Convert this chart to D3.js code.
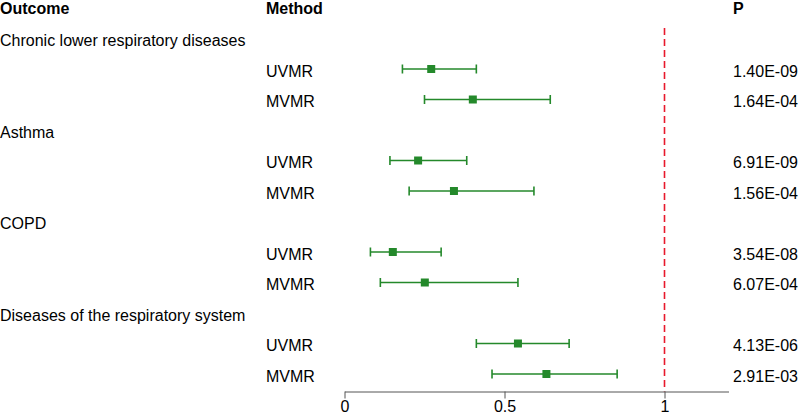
<!DOCTYPE html>
<html>
<head>
<meta charset="utf-8">
<script src="https://cdn.jsdelivr.net/npm/d3@7"></script>
<style>
  body { margin: 0; background: #fff; }
  text { font-family: "Liberation Sans", Arial, sans-serif; }
</style>
</head>
<body>
<svg id="forest"></svg>
<script>
// Datos del gráfico
const outcomes = ["Chronic lower respiratory diseases", "Asthma", "COPD", "Diseases of the respiratory system"];
const methods = ["UVMR", "MVMR"];
const estimates = [0.271, 0.401, 0.230, 0.342, 0.151, 0.251, 0.542, 0.631];
const lowers = [0.181, 0.250, 0.142, 0.202, 0.081, 0.112, 0.412, 0.461];
const uppers = [0.412, 0.643, 0.382, 0.592, 0.302, 0.542, 0.702, 0.852];
const pvalues = ["1.40E-09", "1.64E-04", "6.91E-09", "1.56E-04", "3.54E-08", "6.07E-04", "4.13E-06", "2.91E-03"];
const xTicks = [0, 0.5, 1];
const xMax = 1.2;
const refValue = 1;

const width = 800, height = 419;
const green = "#24892b";
const fontSize = 16;

const svg = d3.select("#forest")
    .attr("width", width)
    .attr("height", height);

// Construir filas: encabezado de outcome, luego una fila por método
const rows = [];
outcomes.forEach((o, i) => {
    rows.push({ type: "outcome", label: o });
    methods.forEach((m, j) => {
        const k = i * methods.length + j;
        rows.push({ type: "method", label: m, est: estimates[k], lo: lowers[k], hi: uppers[k], p: pvalues[k] });
    });
});

// Escalas
const y = d3.scalePoint()
    .domain(d3.range(rows.length + 1))
    .range([8.5, 8.5 + 30.5 * rows.length]);

const x = d3.scaleLinear()
    .domain([0, xMax])
    .range([344.5, 728.5]);

const colOutcome = 0, colMethod = 266, colP = 733;
const axisY = 391.5;

// Encabezados
const header = svg.append("g")
    .attr("font-size", fontSize)
    .attr("font-weight", "bold");
[["Outcome", colOutcome], ["Method", colMethod], ["P", colP]].forEach(([t, cx]) => {
    header.append("text")
        .attr("x", cx)
        .attr("y", y(0))
        .attr("dy", "0.35em")
        .text(t);
});

// Textos de filas
svg.append("g")
    .attr("font-size", fontSize)
  .selectAll("text.label")
  .data(rows)
  .join("text")
    .attr("x", d => d.type === "outcome" ? colOutcome : colMethod)
    .attr("y", (d, i) => y(i + 1) + 1.5)
    .attr("dy", "0.35em")
    .text(d => d.label);

svg.append("g")
    .attr("font-size", fontSize)
  .selectAll("text")
  .data(rows.map((d, i) => ({ ...d, i })).filter(d => d.type === "method"))
  .join("text")
    .attr("x", colP)
    .attr("y", d => y(d.i + 1) + 1.5)
    .attr("dy", "0.35em")
    .text(d => d.p);

// Línea de referencia
svg.append("line")
    .attr("x1", x(refValue)).attr("x2", x(refValue))
    .attr("y1", 28).attr("y2", axisY)
    .attr("stroke", "#e8192c")
    .attr("stroke-width", 1.6)
    .attr("stroke-dasharray", "7,4");

// Intervalos de confianza
const ci = svg.append("g")
  .selectAll("g")
  .data(rows.map((d, i) => ({ ...d, i })).filter(d => d.type === "method"))
  .join("g")
    .attr("transform", d => `translate(0, ${y(d.i + 1) - 0.5})`);

ci.append("line")
    .attr("x1", d => x(d.lo)).attr("x2", d => x(d.hi))
    .attr("stroke", green).attr("stroke-width", 1.6);

ci.append("line")
    .attr("x1", d => x(d.lo)).attr("x2", d => x(d.lo))
    .attr("y1", -4.5).attr("y2", 4.5)
    .attr("stroke", green).attr("stroke-width", 1.6);

ci.append("line")
    .attr("x1", d => x(d.hi)).attr("x2", d => x(d.hi))
    .attr("y1", -4.5).attr("y2", 4.5)
    .attr("stroke", green).attr("stroke-width", 1.6);

ci.append("rect")
    .attr("x", d => x(d.est) - 4)
    .attr("y", -4)
    .attr("width", 8)
    .attr("height", 8)
    .attr("fill", green);

// Eje
const axis = svg.append("g")
    .attr("transform", `translate(0, ${axisY})`)
    .call(d3.axisBottom(x).tickValues(xTicks).tickSize(7).tickSizeOuter(0).tickFormat(d3.format("")));

axis.select(".domain").attr("stroke", "#555");
axis.selectAll(".tick line").attr("stroke", "#555");
axis.selectAll(".tick text")
    .attr("font-size", fontSize)
    .attr("font-family", "Liberation Sans, Arial, sans-serif")
    .attr("fill", "#000")
    .attr("y", 8)
    .attr("dy", "0.8em");
</script>
</body>
</html>
